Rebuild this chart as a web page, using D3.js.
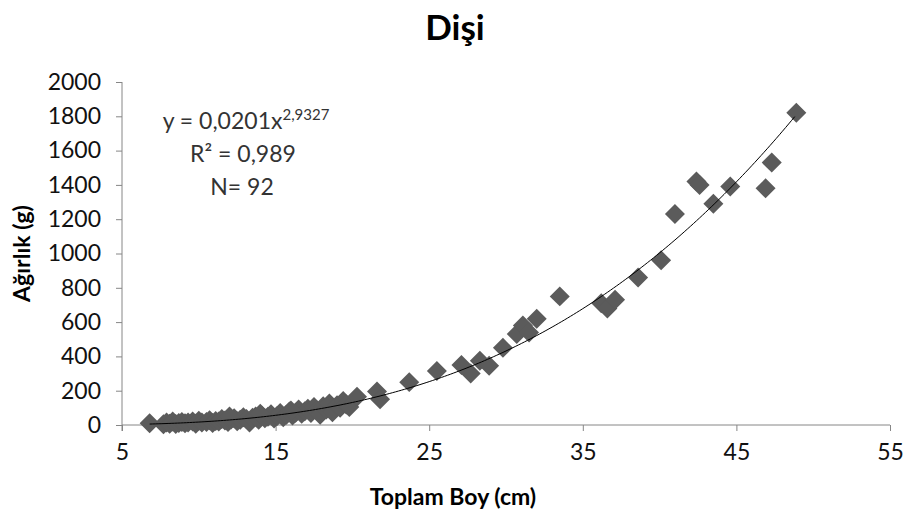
<!DOCTYPE html>
<html>
<head>
<meta charset="utf-8">
<script src="https://cdn.jsdelivr.net/npm/d3@7"></script>
<style>
  body { margin: 0; background: #fff; }
  svg { display: block; }
  .axis path, .axis line { stroke: #868686; }
  .axis text { font-family: Lato, sans-serif; font-size: 23px; fill: #111; }
</style>
</head>
<body>
<div id="chart"></div>
<script>
// Veriler: toplam boy (cm) ve ağırlık (g)
const boy = [
  6.8, 7.7, 7.9, 8.1, 8.3, 8.5, 8.7, 8.9, 9.1, 9.3, 9.6, 9.8,
  10.0, 10.2, 10.5, 10.7, 10.9, 11.1, 11.3, 11.5, 11.7, 11.9, 12.1, 12.3,
  12.5, 12.7, 12.9, 13.1, 13.3, 13.5, 13.7, 13.9, 14.1, 14.3, 14.5, 14.7,
  14.9, 15.1, 15.3, 15.5, 15.7, 15.9, 16.1, 16.3, 16.5, 16.7, 16.9, 17.1,
  17.3, 17.5, 17.7, 17.9, 18.1, 18.3, 18.5, 18.7, 19.0, 19.2, 19.4, 19.6,
  19.8, 16.0, 14.0, 12.0,
  20.3, 21.6, 21.8, 23.7, 25.5, 27.1, 27.7, 28.3, 28.9, 29.8, 30.7, 31.1,
  31.5, 32.0, 33.5, 36.2, 36.6, 37.1, 38.6, 40.1, 41.0, 42.4, 42.6, 43.5,
  44.6, 46.9, 47.3, 48.9
];
const agirlik = [
  10, 5, 15, 8, 20, 6, 12, 18, 10, 14, 20, 8,
  25, 15, 18, 28, 12, 24, 20, 35, 26, 18, 32, 40,
  22, 30, 45, 35, 15, 42, 50, 30, 55, 40, 48, 62,
  38, 52, 70, 45, 60, 78, 55, 72, 90, 65, 80, 95,
  70, 105, 85, 60, 110, 90, 125, 75, 115, 100, 140, 120,
  105, 85, 65, 50,
  165, 195, 150, 250, 315, 350, 300, 375, 345, 450, 530, 580,
  540, 620, 750, 710, 680, 730, 860, 960, 1230, 1420, 1400, 1290,
  1390, 1380, 1530, 1820
];

const xTicks = [5, 15, 25, 35, 45, 55];
const yTicks = [0, 200, 400, 600, 800, 1000, 1200, 1400, 1600, 1800, 2000];

// Üssel regresyon: y = a * x^b
const katsayiA = 0.0201;
const usB = 2.9327;

const width = 909, height = 519;
const margin = {top: 82, right: 19, bottom: 94, left: 122};
const w = width - margin.left - margin.right;
const h = height - margin.top - margin.bottom;

const svg = d3.select("#chart").append("svg")
    .attr("width", width)
    .attr("height", height);

const g = svg.append("g")
    .attr("transform", `translate(${margin.left},${margin.top})`);

const x = d3.scaleLinear().domain([5, 55]).range([0, w]);
const y = d3.scaleLinear().domain([0, 2000]).range([h, 0]);

// Eksenler
g.append("g")
    .attr("class", "axis")
    .attr("transform", `translate(0,${h})`)
    .call(d3.axisBottom(x).tickValues(xTicks).tickFormat(d3.format("d"))
        .tickSize(6).tickPadding(13).tickSizeOuter(0))
    .call(a => a.select(".domain").attr("d", `M0,0H${w}`));

g.append("g")
    .attr("class", "axis")
    .call(d3.axisLeft(y).tickValues(yTicks).tickFormat(d3.format("d"))
        .tickSize(6).tickPadding(15).tickSizeOuter(0))
    .call(a => a.select(".domain").attr("d", `M0,0V${h + 6}`));

// Noktalar
const pts = boy.map((b, i) => ({x: b, y: agirlik[i]}));
const diamond = d3.symbol().type(d3.symbolSquare).size(200);

g.append("g").selectAll("path")
    .data(pts)
    .join("path")
    .attr("d", diamond)
    .attr("transform", d => `translate(${x(d.x)},${y(d.y)}) rotate(45)`)
    .attr("fill", "#5b5b5b");

// Eğilim çizgisi
const trend = d3.range(d3.min(boy), d3.max(boy) + 0.001, 0.2)
    .map(v => ({x: v, y: katsayiA * Math.pow(v, usB)}));

g.append("path")
    .datum(trend)
    .attr("fill", "none")
    .attr("stroke", "#000")
    .attr("stroke-width", 1)
    .attr("d", d3.line().x(d => x(d.x)).y(d => y(d.y)));

// Başlıklar
svg.append("text")
    .attr("x", 455).attr("y", 40)
    .attr("text-anchor", "middle")
    .style("font-family", "Lato, sans-serif")
    .style("font-weight", "bold")
    .style("font-size", "35px")
    .text("Dişi");

svg.append("text")
    .attr("x", 453).attr("y", 505)
    .attr("text-anchor", "middle")
    .style("font-family", "Lato, sans-serif")
    .style("font-weight", "bold")
    .style("font-size", "23px")
    .text("Toplam Boy (cm)");

svg.append("text")
    .attr("transform", `translate(30,${margin.top + h / 2}) rotate(-90)`)
    .attr("text-anchor", "middle")
    .style("font-family", "Lato, sans-serif")
    .style("font-weight", "bold")
    .style("font-size", "23px")
    .text("Ağırlık (g)");

// Denklem metni
const ann = svg.append("g")
    .style("font-family", "Lato, sans-serif")
    .style("font-size", "23px")
    .style("fill", "#333");

const eq = ann.append("text").attr("x", 246).attr("y", 129).attr("text-anchor", "middle");
eq.append("tspan").text("y = 0,0201x");
eq.append("tspan").attr("dy", -9).style("font-size", "15px").text("2,9327");

ann.append("text").attr("x", 243).attr("y", 162).attr("text-anchor", "middle").text("R² = 0,989");
ann.append("text").attr("x", 242).attr("y", 195).attr("text-anchor", "middle").text("N= 92");
</script>
</body>
</html>
